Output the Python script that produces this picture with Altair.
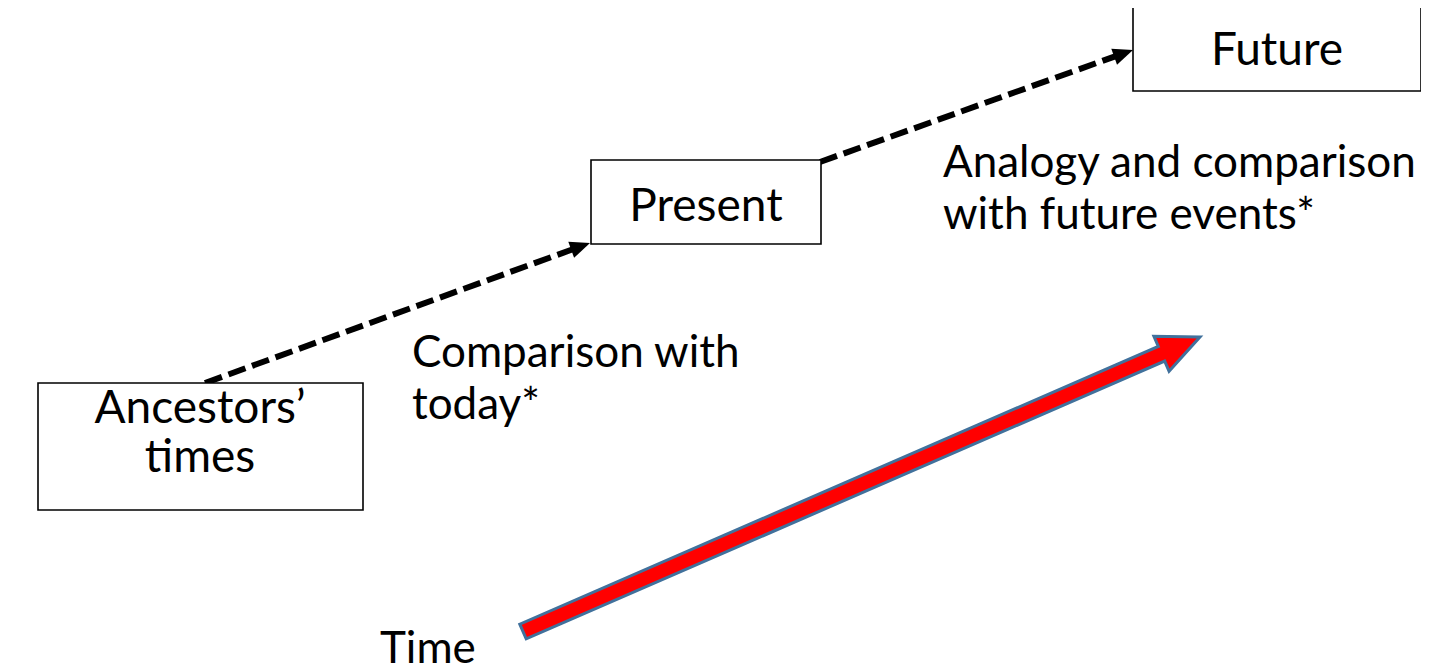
import altair as alt
import pandas as pd
import numpy as np

# ---- data (picture pixel coordinates, y grows downward) ----
box_x1 = [38, 591, 1133]
box_x2 = [363, 821, 1421]
box_y1 = [383, 160, 7]
box_y2 = [510, 244, 91]

box_text = ["Ancestors\u2019", "times", "Present", "Future"]
box_text_x = [200, 200, 706, 1277]
box_text_y = [423, 472, 221, 65]

note_text = ["Comparison with", "today*", "Analogy and comparison", "with future events*", "Time"]
note_x = [412, 412, 943, 943, 380]
note_y = [367, 419, 177, 229, 663]

link_x0 = [205, 820]
link_y0 = [383, 162]
link_x1 = [590, 1133]
link_y1 = [243, 50]

time_x0, time_y0 = 523, 631.5
time_x1, time_y1 = 1200, 337

FONT = "Lato"
UNIT = 10.0  # px per path unit for size=400

# ---- derived tables ----
boxes = pd.DataFrame({"x": box_x1, "x2": box_x2, "y": box_y1, "y2": box_y2})
btxt = pd.DataFrame({"x": box_text_x, "y": box_text_y, "t": box_text})
ntxt = pd.DataFrame({"x": note_x, "y": note_y, "t": note_text})

head_len = 20.0
dx = np.array(link_x1, float) - np.array(link_x0, float)
dy = np.array(link_y1, float) - np.array(link_y0, float)
ang = np.arctan2(dy, dx)
links = pd.DataFrame({
    "x": link_x0, "y": link_y0,
    "x2": np.array(link_x1) - (head_len - 1.0) * np.cos(ang),
    "y2": np.array(link_y1) - (head_len - 1.0) * np.sin(ang),
})
heads = pd.DataFrame({"x": link_x1, "y": link_y1,
                      "angle": np.degrees(ang) % 360})

tdx, tdy = time_x1 - time_x0, time_y1 - time_y0
tlen = float(np.hypot(tdx, tdy)) / UNIT
tang = float(np.degrees(np.arctan2(tdy, tdx)) % 360)
timearrow = pd.DataFrame({"x": [time_x1], "y": [time_y1], "angle": [tang]})

hl, hw, sw = 4.2, 1.9, 0.8
arrow_path = (f"M0,0 L{-hl},{-hw} L{-hl},{-sw} L{-tlen:.2f},{-sw} "
              f"L{-tlen:.2f},{sw} L{-hl},{sw} L{-hl},{hw} Z")
head_path = f"M0,0 L{-head_len/UNIT},{-0.85} L{-head_len/UNIT},0.85 Z"

xs = alt.Scale(domain=[8, 1421], nice=False, zero=False)
ys = alt.Scale(domain=[8, 668], nice=False, zero=False, reverse=True)
X = lambda f="x": alt.X(f"{f}:Q", scale=xs, axis=None)
Y = lambda f="y": alt.Y(f"{f}:Q", scale=ys, axis=None)

link_layer = alt.Chart(links).mark_rule(
    color="black", strokeWidth=6, strokeDash=[18, 7], strokeCap="butt"
).encode(x=X(), y=Y(), x2="x2:Q", y2="y2:Q")

head_layer = alt.Chart(heads).mark_point(
    shape=head_path, filled=True, fill="black", size=400, opacity=1, strokeWidth=0
).encode(x=X(), y=Y(), angle=alt.Angle("angle:Q", scale=None))

box_layer = alt.Chart(boxes).mark_rect(
    fill="white", stroke="black", strokeWidth=1.6
).encode(x=X(), y=Y(), x2="x2:Q", y2="y2:Q")

btxt_layer = alt.Chart(btxt).mark_text(
    font=FONT, fontSize=46, align="center", baseline="alphabetic", color="black"
).encode(x=X(), y=Y(), text="t:N")

ntxt_layer = alt.Chart(ntxt).mark_text(
    font=FONT, fontSize=44, align="left", baseline="alphabetic", color="black"
).encode(x=X(), y=Y(), text="t:N")

time_layer = alt.Chart(timearrow).mark_point(
    shape=arrow_path, filled=True, fill="#FF0000", stroke="#41719C",
    strokeWidth=3, size=400, opacity=1, strokeOpacity=1, fillOpacity=1
).encode(x=X(), y=Y(), angle=alt.Angle("angle:Q", scale=None))

chart = alt.layer(
    link_layer, head_layer, box_layer, btxt_layer, ntxt_layer, time_layer
).properties(
    width=1413, height=660, padding=0, autosize=alt.AutoSizeParams(type="none")
).configure(background="white").configure_view(stroke=None)

chart.save("out.html", embed_options={"renderer": "svg", "actions": False})
